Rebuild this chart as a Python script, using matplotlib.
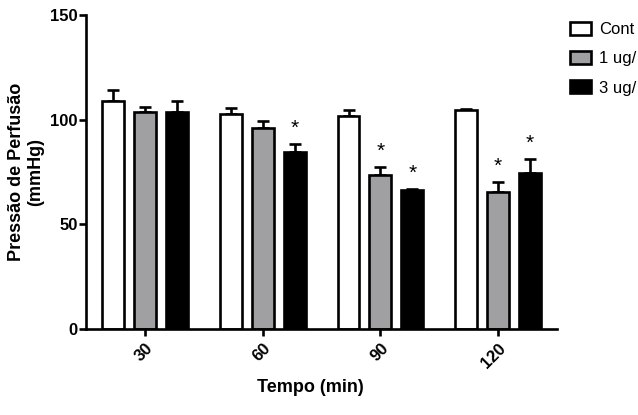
import numpy as np
import matplotlib

matplotlib.use("Agg")
import matplotlib.pyplot as plt

plt.rcParams["font.family"] = ["Liberation Sans", "DejaVu Sans"]
plt.rcParams["font.weight"] = "bold"

# valores (media +- erro)
tempos = ["30", "60", "90", "120"]
grupos = ["Cont", "1 ug/", "3 ug/"]
cores = ["white", "#a0a0a2", "black"]

media_cont = [109.0, 102.7, 101.9, 104.4]
erro_cont = [5.0, 3.0, 2.5, 0.8]
media_1ug = [103.5, 96.2, 73.4, 65.5]
erro_1ug = [2.7, 3.0, 4.0, 4.8]
media_3ug = [103.5, 84.5, 66.2, 74.3]
erro_3ug = [5.5, 4.0, 0.8, 6.7]
# asterisco = diferenca significativa vs controle
sig_1ug = [False, False, True, True]
sig_3ug = [False, True, True, True]

medias = [media_cont, media_1ug, media_3ug]
erros = [erro_cont, erro_1ug, erro_3ug]
sigs = [[False] * 4, sig_1ug, sig_3ug]

fig = plt.figure(figsize=(6.38, 4.15), dpi=100)
ax = fig.add_axes([0.135, 0.207, 0.738, 0.757])

x = np.arange(len(tempos))
passo = 0.271
largura = 0.186
for k in range(3):
    pos = x + (k - 1) * passo
    ax.bar(pos, medias[k], largura, color=cores[k], edgecolor="black",
           linewidth=1.9, label=grupos[k], zorder=2)
    ax.errorbar(pos, medias[k], yerr=[np.zeros(4), erros[k]], fmt="none",
                ecolor="black", elinewidth=1.9, capsize=4, capthick=1.9, zorder=1)
    for p, m, e, s in zip(pos, medias[k], erros[k], sigs[k]):
        if s:
            ax.text(p, m + e + 3, "*", ha="center", va="bottom", fontsize=15,
                    fontweight="normal")

ax.set_xlim(-0.5, 3.5)
ax.set_ylim(0, 150)
ax.set_yticks([0, 50, 100, 150])
ax.set_xticks(x)
ax.set_xticklabels(tempos, rotation=45, ha="right", rotation_mode="anchor")
ax.tick_params(axis="both", width=1.9, length=5, labelsize=12)
ax.tick_params(axis="y", pad=1)
for lab in ax.get_xticklabels() + ax.get_yticklabels():
    lab.set_fontweight("bold")
for lado in ["top", "right"]:
    ax.spines[lado].set_visible(False)
for lado in ["left", "bottom"]:
    ax.spines[lado].set_linewidth(1.9)

ax.set_xlabel("Tempo (min)", fontsize=13, fontweight="bold")
ax.xaxis.set_label_coords(0.476, -0.158)
ax.set_ylabel("Pressão de Perfusão\n(mmHg)", fontsize=13, fontweight="bold",
              labelpad=4)

leg = fig.legend(loc="upper left", bbox_to_anchor=(570 / 638, 1 - 22 / 415),
                 bbox_transform=fig.transFigure, frameon=False,
                 fontsize=12, handlelength=1.25, handleheight=0.85,
                 handletextpad=0.5, labelspacing=0.82, borderpad=0,
                 borderaxespad=0)
for t in leg.get_texts():
    t.set_fontweight("normal")

fig.savefig("out.png", dpi=100)
